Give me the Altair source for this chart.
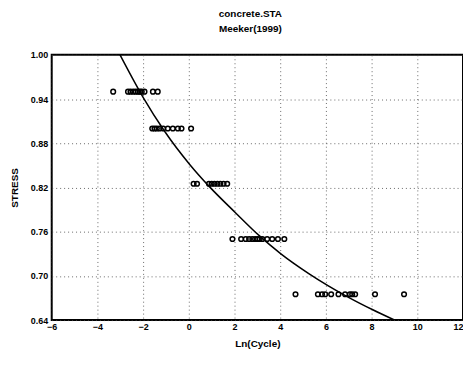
import altair as alt
import pandas as pd

# observed data (Ln(Cycle), stress level)
ln95 = [-3.31, -2.66, -2.55, -2.43, -2.32, -2.22, -2.14, -2.06, -1.94, -1.57, -1.36]
ln90 = [-1.60, -1.50, -1.40, -1.28, -1.12, -0.92, -0.70, -0.48, -0.32, 0.10]
ln825 = [0.21, 0.36, 0.88, 1.00, 1.12, 1.25, 1.38, 1.52, 1.68]
ln75 = [1.91, 2.29, 2.49, 2.64, 2.78, 2.90, 3.00, 3.10, 3.22, 3.43, 3.65, 3.90, 4.18]
ln675 = [4.67, 5.65, 5.83, 5.97, 6.23, 6.55, 6.84, 7.05, 7.15, 7.28, 8.15, 9.42]
levels = [0.95, 0.90, 0.825, 0.75, 0.675]

# fitted curve
fit_x = [-3.01, -2.0, -1.06, 0.03, 0.90, 2.03, 3.07, 4.03, 5.25, 6.99, 8.03, 9.0]
fit_y = [1.000, 0.9424, 0.8963, 0.8516, 0.8211, 0.7861, 0.7549, 0.7299, 0.7031, 0.6709, 0.6543, 0.640]

x_ticks = [-6, -4, -2, 0, 2, 4, 6, 8, 10, 12]
y_ticks = [0.64, 0.70, 0.76, 0.82, 0.88, 0.94, 1.00]

rows = []
for lv, xs in zip(levels, [ln95, ln90, ln825, ln75, ln675]):
    for v in xs:
        rows.append({"x": v, "y": lv})
pts = pd.DataFrame(rows)
fit = pd.DataFrame({"x": fit_x, "y": fit_y})

FONT = "Liberation Sans"

xsc = alt.Scale(domain=[-6, 12], nice=False, zero=False)
ysc = alt.Scale(domain=[0.64, 1.00], nice=False, zero=False)

xax = alt.Axis(values=x_ticks, title="Ln(Cycle)", ticks=False, labelPadding=2,
               titlePadding=8, domain=False, format="d", labelFlush=False,
               labelAlign={"expr": "datum.value == 12 ? 'right' : 'center'"})
yax = alt.Axis(values=y_ticks, title="STRESS", ticks=False, labelPadding=4,
               titlePadding=11, domain=False, format=".2f", labelFlush=False)

points = alt.Chart(pts).mark_point(shape="circle", filled=False, color="black",
                                   size=22, strokeWidth=1.5, opacity=1).encode(
    x=alt.X("x:Q", scale=xsc, axis=xax),
    y=alt.Y("y:Q", scale=ysc, axis=yax),
)

line = alt.Chart(fit).mark_line(color="black", strokeWidth=1.5,
                                interpolate="monotone", clip=True).encode(
    x=alt.X("x:Q", scale=xsc),
    y=alt.Y("y:Q", scale=ysc),
)

chart = alt.layer(line, points).properties(
    width=414,
    height=267,
    autosize=alt.AutoSizeParams(type="none"),
    padding={"left": 44, "top": 46, "right": 0, "bottom": 28},
    title=alt.TitleParams(text=["concrete.STA", "Meeker(1999)"], fontSize=10,
                          font=FONT, fontWeight="bold", anchor="middle",
                          lineHeight=15, offset=17, color="black", dx=-7),
).configure_view(
    stroke="black", strokeWidth=2
).configure_axis(
    labelFont=FONT, titleFont=FONT, labelFontSize=9, titleFontSize=10,
    labelFontWeight="bold", titleFontWeight="bold",
    labelColor="black", titleColor="black",
    grid=True, gridColor="#444", gridDash=[1, 3], gridWidth=1, gridOpacity=0.8,
)

chart.save("out.html", embed_options={"renderer": "svg", "actions": False})
